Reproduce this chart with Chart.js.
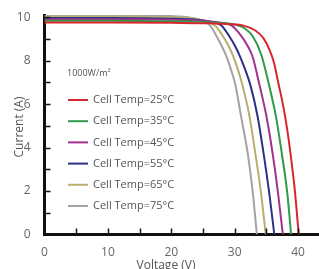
<!DOCTYPE html>
<html>
<head>
<meta charset="utf-8">
<script src="https://cdn.jsdelivr.net/npm/chart.js@4.4.1/dist/chart.umd.min.js"></script>
<style>
  html, body { margin: 0; padding: 0; background: #fff; }
  #wrap { width: 319px; height: 269px; position: relative; }
</style>
</head>
<body>
<div id="wrap"><canvas id="chart" width="319" height="269"></canvas></div>
<script>
// I-V curves at 1000 W/m2 (voltage V, current A)
const tempLabels = ['Cell Temp=25°C','Cell Temp=35°C','Cell Temp=45°C','Cell Temp=55°C','Cell Temp=65°C','Cell Temp=75°C'];
const colors = ['#d9262c','#2f9a4a','#a4318f','#2c3087','#b8ae70','#a3a3a3'];

const v25 = [0, 10, 20, 26, 29, 31.5, 33.2, 34.5, 35.5, 36.2, 36.9, 37.5, 38.0, 38.5, 38.9, 39.5, 40.1];
const i25 = [9.75, 9.75, 9.74, 9.72, 9.68, 9.6, 9.4, 9.05, 8.5, 7.9, 6.95, 6.15, 5.35, 4.4, 3.5, 2.0, 0];

const v35 = [0, 10, 20, 25, 28, 30, 31.5, 32.9, 34.2, 35.4, 36.5, 37.5, 38.3, 38.9];
const i35 = [9.83, 9.83, 9.81, 9.78, 9.73, 9.66, 9.5, 9.1, 8.27, 6.9, 5.45, 3.6, 1.9, 0];

const v45 = [0, 10, 20, 25, 27.5, 29.5, 31.0, 32.0, 32.8, 33.9, 35.0, 36.0, 36.8, 37.6];
const i45 = [9.9, 9.9, 9.88, 9.83, 9.76, 9.62, 9.15, 8.7, 8.2, 6.9, 5.45, 3.7, 2.0, 0];

const v55 = [0, 10, 20, 24, 26, 27.9, 29.2, 30.1, 30.9, 31.7, 32.5, 33.6, 34.6, 35.5, 36.25];
const i55 = [9.96, 9.96, 9.93, 9.88, 9.8, 9.62, 9.1, 8.65, 8.15, 7.55, 6.85, 5.45, 3.65, 1.8, 0];

const v65 = [0, 10, 20, 23, 25, 26.9, 28.2, 29.0, 29.7, 30.5, 31.2, 32.3, 33.3, 34.2, 34.9];
const i65 = [10.03, 10.03, 10.0, 9.96, 9.85, 9.62, 9.1, 8.7, 8.25, 7.6, 6.9, 5.5, 3.65, 1.8, 0];

const v75 = [0, 10, 20, 22, 24, 26.1, 27.1, 28.0, 28.7, 29.4, 30.1, 31.0, 32.1, 32.9, 33.5];
const i75 = [10.08, 10.08, 10.05, 10.02, 9.92, 9.62, 9.15, 8.65, 8.2, 7.6, 6.9, 5.45, 3.65, 1.8, 0];

const xTicks = [0, 10, 20, 30, 40];
const yTicks = [0, 2, 4, 6, 8, 10];
const irradiance = '1000W/m²';
const xTitle = 'Voltage (V)';
const yTitle = 'Current (A)';

const series = [[v25,i25],[v35,i35],[v45,i45],[v55,i55],[v65,i65],[v75,i75]];

const datasets = series.map(([vs, is], k) => ({
  label: tempLabels[k],
  data: vs.map((v, j) => ({ x: v, y: is[j] })),
  borderColor: colors[k],
  backgroundColor: colors[k],
  borderWidth: 2,
  pointRadius: 0,
  cubicInterpolationMode: 'monotone',
  fill: false
}));

// inward tick marks, legend and axis titles
const decor = {
  id: 'decor',
  afterDatasetsDraw(chart) {
    const { ctx, chartArea: a, scales: { x, y } } = chart;
    ctx.save();
    ctx.strokeStyle = '#111';
    ctx.lineWidth = 1.5;
    for (let v = 5; v <= 40; v += 5) {
      const px = Math.round(x.getPixelForValue(v)) + 0.5;
      ctx.beginPath(); ctx.moveTo(px, a.bottom); ctx.lineTo(px, a.bottom - 6); ctx.stroke();
    }
    for (let v = 1; v <= 10; v++) {
      const py = Math.round(y.getPixelForValue(v)) + 0.5;
      ctx.beginPath(); ctx.moveTo(a.left, py); ctx.lineTo(a.left + 6, py); ctx.stroke();
    }

    // legend
    ctx.fillStyle = '#555';
    ctx.font = '9px "Open Sans"';
    ctx.textBaseline = 'middle';
    ctx.fillText(irradiance, 67, 73);
    ctx.font = '11px "Open Sans"';
    chart.data.datasets.forEach((ds, k) => {
      const yy = 100 + k * 21.2;
      ctx.strokeStyle = ds.borderColor;
      ctx.lineWidth = 2;
      ctx.beginPath(); ctx.moveTo(68, yy); ctx.lineTo(88, yy); ctx.stroke();
      ctx.fillStyle = '#555';
      ctx.fillText(ds.label, 93, yy);
    });

    // axis titles
    ctx.fillStyle = '#555';
    ctx.font = '12px "Open Sans"';
    ctx.textAlign = 'center';
    ctx.fillText(xTitle, 166, 266);
    ctx.translate(20, 127);
    ctx.rotate(-Math.PI / 2);
    ctx.fillText(yTitle, 0, 0);
    ctx.restore();
  }
};

new Chart(document.getElementById('chart'), {
  type: 'line',
  data: { datasets },
  plugins: [decor],
  options: {
    responsive: false,
    animation: false,
    layout: { padding: { top: 15, right: 0, left: 0, bottom: 0 } },
    plugins: { legend: { display: false }, tooltip: { enabled: false } },
    scales: {
      x: {
        type: 'linear',
        min: 0, max: 43.3,
        grid: { display: false },
        border: { display: true, color: '#111', width: 3 },
        ticks: {
          padding: 3, color: '#666', maxRotation: 0, autoSkip: false,
          font: { family: 'Open Sans', size: 12 }
        },
        afterBuildTicks(s) { s.ticks = xTicks.map(v => ({ value: v })); },
        afterFit(s) { s.height = 34.5; }
      },
      y: {
        min: 0, max: 10.1,
        grid: { display: false },
        border: { display: true, color: '#111', width: 3 },
        ticks: {
          padding: 6, color: '#666', autoSkip: false,
          font: { family: 'Open Sans', size: 12 }
        },
        afterBuildTicks(s) { s.ticks = yTicks.map(v => ({ value: v })); },
        afterFit(s) { s.width = 44.5; }
      }
    }
  }
});
</script>
</body>
</html>
